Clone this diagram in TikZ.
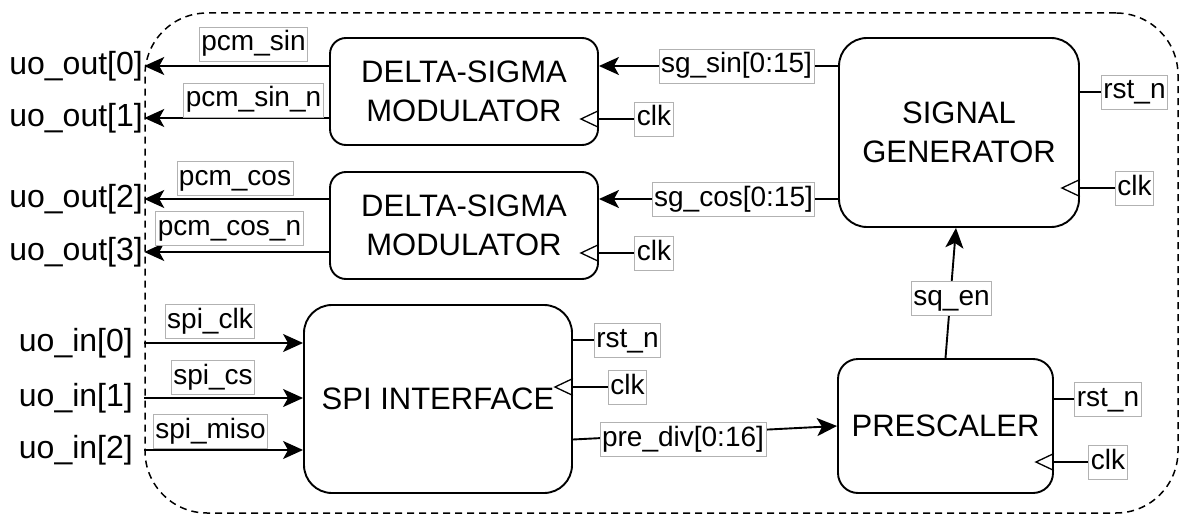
\documentclass[tikz,border=0pt]{standalone}
\usepackage{fontspec}
\setmainfont{Liberation Sans}
\usetikzlibrary{arrows.meta,backgrounds}

\begin{document}
\begin{tikzpicture}[x=1pt,y=-1pt,
  blk/.style={draw, line width=1.9pt, align=center, inner sep=0pt,
     font=\fontsize{31}{39}\selectfont},
  port/.style={font=\fontsize{32}{38}\selectfont, inner sep=0pt},
  tag/.style={draw=black!30, line width=0.9pt, fill=white, inner xsep=2pt, inner ysep=3pt,
     text height=21pt, text depth=7pt, font=\fontsize{28}{32}\selectfont},
  wire/.style={line width=1.9pt},
  sig/.style={wire, -{Stealth[length=20pt,width=18pt,inset=5pt]}},
  clkmark/.style={line width=1.3pt},
]
\useasboundingbox (0,0) rectangle (1183,516);

% chip boundary
\node[draw, dash pattern=on 7pt off 5pt, line width=1.5pt, rounded corners=62pt,
      minimum width=1033pt, minimum height=500pt] (chip) at (661.5,263) {};

% functional blocks
\node[blk, rounded corners=16pt, minimum width=268pt, minimum height=107pt] (dsm1) at (464,91.5) {DELTA-SIGMA\\MODULATOR};
\node[blk, rounded corners=16pt, minimum width=268pt, minimum height=107pt] (dsm2) at (464,225.5) {DELTA-SIGMA\\MODULATOR};
\node[blk, rounded corners=28pt, minimum width=240pt, minimum height=189pt] (sg) at (959,132.5) {SIGNAL\\GENERATOR};
\node[blk, rounded corners=28pt, minimum width=268pt, minimum height=188pt] (spi) at (438,399) {SPI INTERFACE};
\node[blk, rounded corners=20pt, minimum width=215pt, minimum height=134pt] (pre) at (945.5,426) {PRESCALER};

% chip pins
\node[port, anchor=east] (o0) at (143,66) {uo\_out[0]};
\node[port, anchor=east] (o1) at (143,118) {uo\_out[1]};
\node[port, anchor=east] (o2) at (143,199) {uo\_out[2]};
\node[port, anchor=east] (o3) at (143,252) {uo\_out[3]};
\node[port, anchor=east] (i0) at (133,343) {uo\_in[0]};
\node[port, anchor=east] (i1) at (133,398) {uo\_in[1]};
\node[port, anchor=east] (i2) at (133,450) {uo\_in[2]};

% signal names
\node[tag] (pcmsin)  at (253.5,44)   {pcm\_sin};
\node[tag] (pcmsinn) at (253.5,100)  {pcm\_sin\_n};
\node[tag] (pcmcos)  at (235,178)    {pcm\_cos};
\node[tag] (pcmcosn) at (229.5,228.5){pcm\_cos\_n};
\node[tag] (sgsin)   at (736.5,66)   {sg\_sin[0:15]};
\node[tag] (sgcos)   at (733.5,199)  {sg\_cos[0:15]};
\node[tag] (c1)      at (654,119)    {clk};
\node[tag] (c2)      at (654,253)    {clk};
\node[tag] (sgrst)   at (1134.5,92)  {rst\_n};
\node[tag] (sgclk)   at (1134.5,188) {clk};
\node[tag] (sqen)    at (951.5,298)  {sq\_en};
\node[tag] (spirst)  at (627.5,340)  {rst\_n};
\node[tag] (spiclk)  at (627.5,387)  {clk};
\node[tag] (prediv)  at (683,439.5)  {pre\_div[0:16]};
\node[tag] (prerst)  at (1108,399)   {rst\_n};
\node[tag] (preclk)  at (1108,462)   {clk};
\node[tag] (spisck)  at (210,321.5)  {spi\_clk};
\node[tag] (spics)   at (213,377.5)  {spi\_cs};
\node[tag] (spimiso) at (210.5,431)  {spi\_miso};

% wiring
\begin{scope}[on background layer]
  \draw[sig] (dsm1.west |- o0) -- (chip.west |- o0);
  \draw[sig] (dsm1.west |- o1) -- (chip.west |- o1);
  \draw[sig] (dsm2.west |- o2) -- (chip.west |- o2);
  \draw[sig] (dsm2.west |- o3) -- (chip.west |- o3);
  \draw[sig] (sg.west |- sgsin) -- (dsm1.east |- sgsin);
  \draw[sig] (sg.west |- sgcos) -- (dsm2.east |- sgcos);
  \draw[wire] (dsm1.east |- c1) -- (c1.west);
  \draw[wire] (dsm2.east |- c2) -- (c2.west);
  \draw[wire] (sg.east |- sgrst) -- (sgrst.west);
  \draw[wire] (sg.east |- sgclk) -- (sgclk.west);
  \draw[sig] (pre.north) -- ([xshift=-3pt]sg.south);
  \draw[wire] (spi.east |- spirst) -- (spirst.west);
  \draw[wire] (spi.east |- spiclk) -- (spiclk.west);
  \draw[sig] (spi.east |- prediv) -- (pre.west);
  \draw[wire] (pre.east |- prerst) -- (prerst.west);
  \draw[wire] (pre.east |- preclk) -- (preclk.west);
  \draw[sig] (chip.west |- i0) -- (spi.west |- i0);
  \draw[sig] (chip.west |- i1) -- (spi.west |- i1);
  \draw[sig] (chip.west |- i2) -- (spi.west |- i2);
\end{scope}

% clock input marks
\foreach \b/\c in {dsm1/c1, dsm2/c2, sg/sgclk, spi/spiclk, pre/preclk}
  \draw[clkmark] (\b.east |- \c) ++(0,-8.5) -- ++(-18,8.5) -- ++(18,8.5);
\end{tikzpicture}
\end{document}
